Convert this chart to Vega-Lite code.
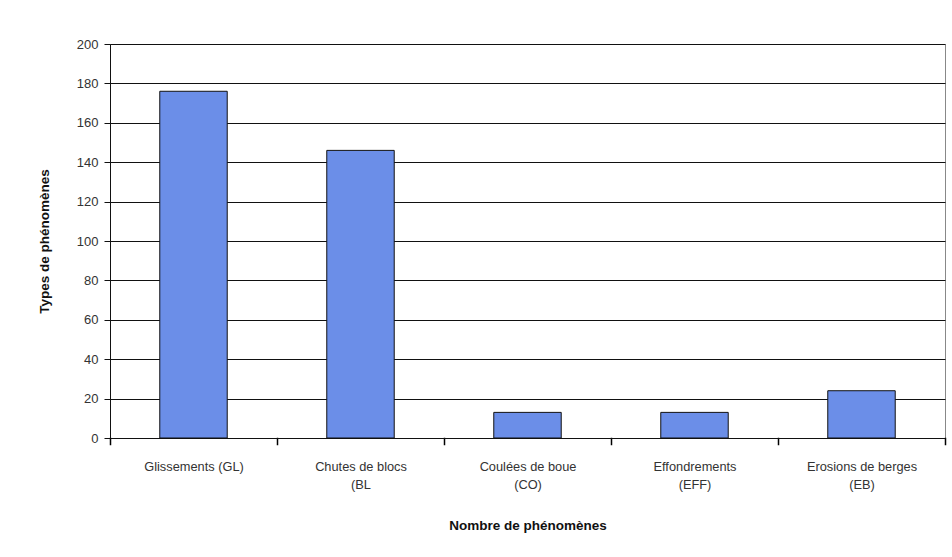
{
  "$schema": "https://vega.github.io/schema/vega-lite/v6.json",
  "width": 835,
  "height": 394,
  "autosize": {"type": "none"},
  "padding": {"left": 110, "top": 44, "right": 7, "bottom": 119},
  "background": "white",
  "data": {
    "values": [
      {"type": "Glissements (GL)", "n": 176},
      {"type": "Chutes de blocs|(BL", "n": 146},
      {"type": "Coulées de boue|(CO)", "n": 13},
      {"type": "Effondrements|(EFF)", "n": 13},
      {"type": "Erosions de berges|(EB)", "n": 24}
    ]
  },
  "mark": {"type": "bar", "color": "#6b8ee8", "stroke": "#111", "strokeWidth": 1, "width": {"band": 0.404}},
  "encoding": {
    "x": {
      "field": "type",
      "type": "nominal",
      "sort": null,
      "scale": {"paddingInner": 0, "paddingOuter": 0},
      "axis": {
        "title": "Nombre de phénomènes",
        "labelAngle": 0,
        "labelExpr": "split(datum.label, '|')",
        "ticks": true,
        "tickBand": "extent",
        "tickWidth": 1.5,
        "tickOpacity": 1,
        "tickRound": false,
        "tickCap": "square",
        "grid": false,
        "domainColor": "#111",
        "tickColor": "#000000",
        "tickSize": 6,
        "labelPadding": 16,
        "labelLineHeight": 18,
        "labelFont": "Liberation Sans",
        "labelFontSize": 12.8,
        "labelColor": "#333",
        "titleFont": "Liberation Sans",
        "titleFontSize": 13.5,
        "titleFontWeight": "bold",
        "titleColor": "#111",
        "titlePadding": 28
      }
    },
    "y": {
      "field": "n",
      "type": "quantitative",
      "scale": {"domain": [0, 200], "nice": false},
      "axis": {
        "title": "Types de phénomènes",
        "values": [0, 20, 40, 60, 80, 100, 120, 140, 160, 180, 200],
        "grid": true,
        "gridColor": "#111",
        "gridOpacity": 1,
        "gridWidth": 1,
        "domainColor": "#111",
        "tickColor": "#111",
        "tickSize": 6,
        "labelPadding": 6,
        "labelFont": "Liberation Sans",
        "labelFontSize": 13,
        "labelColor": "#333",
        "titleFont": "Liberation Sans",
        "titleFontSize": 13.5,
        "titleFontWeight": "bold",
        "titleColor": "#111",
        "titlePadding": 25
      }
    }
  },
  "config": {
    "view": {"stroke": "#888", "strokeWidth": 1}
  }
}
